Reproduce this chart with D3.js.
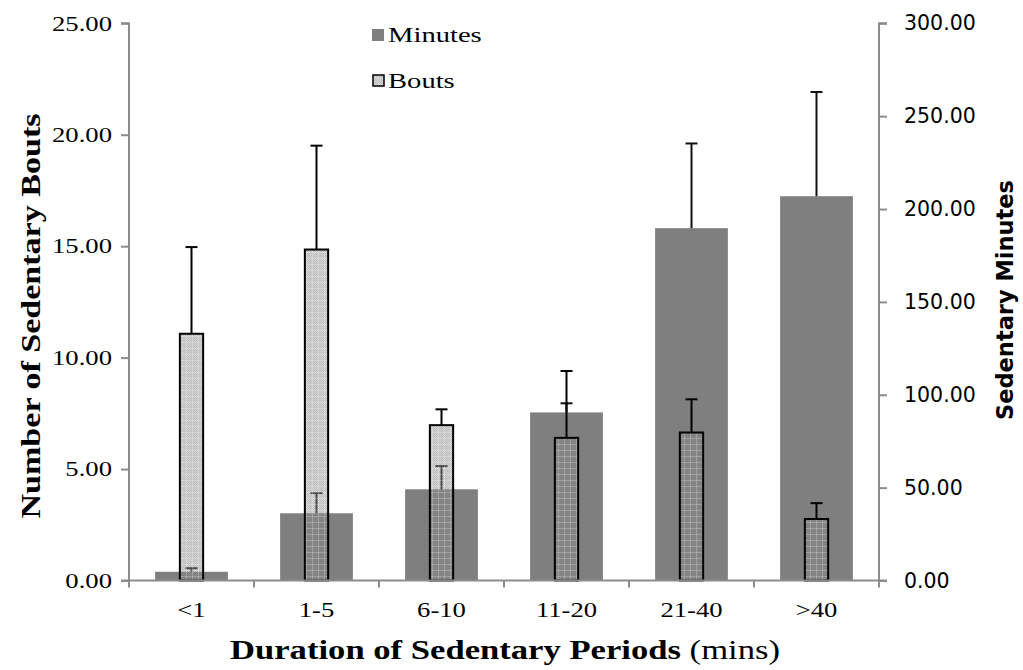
<!DOCTYPE html>
<html>
<head>
<meta charset="utf-8">
<script src="https://cdn.jsdelivr.net/npm/d3@7"></script>
<style>
  html, body { margin: 0; padding: 0; background: #fff; }
  svg { display: block; }
</style>
</head>
<body>
<script>
// Sedentary periods by duration: bouts (left axis) and minutes (right axis)
const categories = ["<1", "1-5", "6-10", "11-20", "21-40", ">40"];
const minutesMean = [4.7, 36.2, 49.1, 90.5, 189.7, 206.9];
const minutesUpper = [6.6, 47.1, 61.6, 95.4, 235.3, 263.0];
const boutsMean = [11.07, 14.85, 6.97, 6.40, 6.64, 2.76];
const boutsUpper = [14.96, 19.51, 7.68, 9.40, 8.13, 3.47];
const leftTicks = [0, 5, 10, 15, 20, 25];
const rightTicks = [0, 50, 100, 150, 200, 250, 300];

const W = 1023, H = 670;
const plot = { left: 129, right: 879, top: 23.3, bottom: 580.5 };
const serif = "'Liberation Serif', serif";
const sans = "'DejaVu Sans', sans-serif";

const svg = d3.select("body").append("svg").attr("width", W).attr("height", H);

// Widen the serif text a little, old-style book faces run broader than Times
function widen(sel, k) {
  sel.each(function () {
    const len = this.getComputedTextLength();
    d3.select(this).attr("textLength", len * k).attr("lengthAdjust", "spacingAndGlyphs");
  });
}

// Fill pattern for the bouts bars (semi-transparent dotted grid)
const defs = svg.append("defs");
const pat = defs.append("pattern")
  .attr("id", "boutsFill").attr("patternUnits", "userSpaceOnUse")
  .attr("width", 6).attr("height", 6);
pat.append("rect").attr("width", 6).attr("height", 6).attr("fill", "rgba(150,150,150,0.42)");
for (let i = 0; i < 6; i++) {
  for (let j = 0; j < 6; j++) {
    if ((i + j) % 2 === 0) {
      pat.append("rect").attr("x", i).attr("y", j).attr("width", 1).attr("height", 1)
        .attr("fill", "rgba(90,90,90,0.18)");
    }
  }
}
pat.append("rect").attr("x", 0).attr("y", 0).attr("width", 6).attr("height", 1).attr("fill", "rgba(255,255,255,0.22)");
pat.append("rect").attr("x", 0).attr("y", 0).attr("width", 1).attr("height", 6).attr("fill", "rgba(255,255,255,0.22)");

const x = d3.scaleBand().domain(categories).range([plot.left, plot.right])
  .paddingInner(0.418).paddingOuter(0.209);
const yL = d3.scaleLinear().domain([0, 25]).range([plot.bottom, plot.top]);
const yR = d3.scaleLinear().domain([0, 300]).range([plot.bottom, plot.top]);

const boutW = x.bandwidth() * 0.32;
const cx = d => x(d) + x.bandwidth() / 2;

// Minutes bars
svg.append("g").selectAll("rect").data(categories).join("rect")
  .attr("x", d => x(d))
  .attr("y", (d, i) => yR(minutesMean[i]))
  .attr("width", x.bandwidth())
  .attr("height", (d, i) => plot.bottom - yR(minutesMean[i]))
  .attr("fill", "#7f7f7f");

// Minutes error bars
const errM = svg.append("g").attr("stroke", "#111").attr("stroke-width", 2);
categories.forEach((c, i) => {
  errM.append("line").attr("x1", cx(c)).attr("x2", cx(c))
    .attr("y1", yR(minutesMean[i])).attr("y2", yR(minutesUpper[i]));
  errM.append("line").attr("x1", cx(c) - 6).attr("x2", cx(c) + 6)
    .attr("y1", yR(minutesUpper[i])).attr("y2", yR(minutesUpper[i]));
});

// Bouts bars
svg.append("g").selectAll("rect").data(categories).join("rect")
  .attr("x", d => cx(d) - boutW / 2)
  .attr("y", (d, i) => yL(boutsMean[i]))
  .attr("width", boutW)
  .attr("height", (d, i) => plot.bottom - yL(boutsMean[i]))
  .attr("fill", "url(#boutsFill)")
  .attr("stroke", "#000").attr("stroke-width", 2);

// Bouts error bars
const errB = svg.append("g").attr("stroke", "#000").attr("stroke-width", 2);
categories.forEach((c, i) => {
  errB.append("line").attr("x1", cx(c)).attr("x2", cx(c))
    .attr("y1", yL(boutsMean[i])).attr("y2", yL(boutsUpper[i]));
  errB.append("line").attr("x1", cx(c) - 6).attr("x2", cx(c) + 6)
    .attr("y1", yL(boutsUpper[i])).attr("y2", yL(boutsUpper[i]));
});

// Axes
const axisColor = "#8c8c8c";
const leftAxis = svg.append("g").attr("transform", `translate(${plot.left},0)`)
  .call(d3.axisLeft(yL).tickValues(leftTicks).tickFormat(d3.format(".2f")).tickSize(8).tickPadding(9));
leftAxis.selectAll("text").attr("font-family", serif).attr("font-size", 21).attr("fill", "#000")
  .call(widen, 1.27);

const rightAxis = svg.append("g").attr("transform", `translate(${plot.right},0)`)
  .call(d3.axisRight(yR).tickValues(rightTicks).tickFormat(d3.format(".2f")).tickSize(8).tickPadding(17));
rightAxis.selectAll("text").attr("font-family", sans).attr("font-size", 20.5).attr("fill", "#000");

const bottomAxis = svg.append("g").attr("transform", `translate(0,${plot.bottom})`)
  .call(d3.axisBottom(x).tickSize(0).tickPadding(22));
bottomAxis.selectAll("text").attr("font-family", serif).attr("font-size", 21).attr("fill", "#000")
  .call(widen, 1.27);
// category boundary ticks
const bounds = d3.range(categories.length + 1).map(i => plot.left + i * x.step());
bottomAxis.selectAll(".bound").data(bounds).join("line").attr("class", "bound")
  .attr("x1", d => d).attr("x2", d => d).attr("y1", 0).attr("y2", 7)
  .attr("stroke", axisColor).attr("stroke-width", 2);

[leftAxis, rightAxis, bottomAxis].forEach(a => {
  a.select(".domain").attr("stroke", axisColor).attr("stroke-width", 2);
  a.selectAll(".tick line").attr("stroke", axisColor).attr("stroke-width", 2);
});
leftAxis.select(".domain").attr("d", `M-8,${plot.top}H0V${plot.bottom}H-8`);
rightAxis.select(".domain").attr("d", `M8,${plot.top}H0V${plot.bottom}H8`);
bottomAxis.select(".domain").attr("d", `M${plot.left},0H${plot.right}`);

// Axis titles
svg.append("text")
  .attr("transform", `translate(40,316) rotate(-90)`)
  .attr("text-anchor", "middle")
  .attr("font-family", serif).attr("font-weight", "bold").attr("font-size", 27)
  .text("Number of Sedentary Bouts")
  .attr("textLength", 405).attr("lengthAdjust", "spacingAndGlyphs");

svg.append("text")
  .attr("transform", `translate(1013,300) rotate(-90)`)
  .attr("text-anchor", "middle")
  .attr("font-family", sans).attr("font-weight", "bold").attr("font-size", 22.5)
  .text("Sedentary Minutes");

const xt = svg.append("text").attr("x", 505).attr("y", 659).attr("text-anchor", "middle")
  .attr("font-family", serif).attr("font-size", 27)
  .attr("textLength", 550).attr("lengthAdjust", "spacingAndGlyphs");
xt.append("tspan").attr("font-weight", "bold").text("Duration of Sedentary Periods ");
xt.append("tspan").text("(mins)");

// Legend
const legend = svg.append("g").attr("font-family", serif).attr("font-size", 22);
legend.append("rect").attr("x", 372).attr("y", 29).attr("width", 12).attr("height", 12).attr("fill", "#7f7f7f");
legend.append("text").attr("x", 388).attr("y", 42).text("Minutes").call(widen, 1.3);
legend.append("rect").attr("x", 373).attr("y", 75).attr("width", 11).attr("height", 11)
  .attr("fill", "url(#boutsFill)").attr("stroke", "#000").attr("stroke-width", 1.5);
legend.append("text").attr("x", 388).attr("y", 88).text("Bouts").call(widen, 1.3);
</script>
</body>
</html>
